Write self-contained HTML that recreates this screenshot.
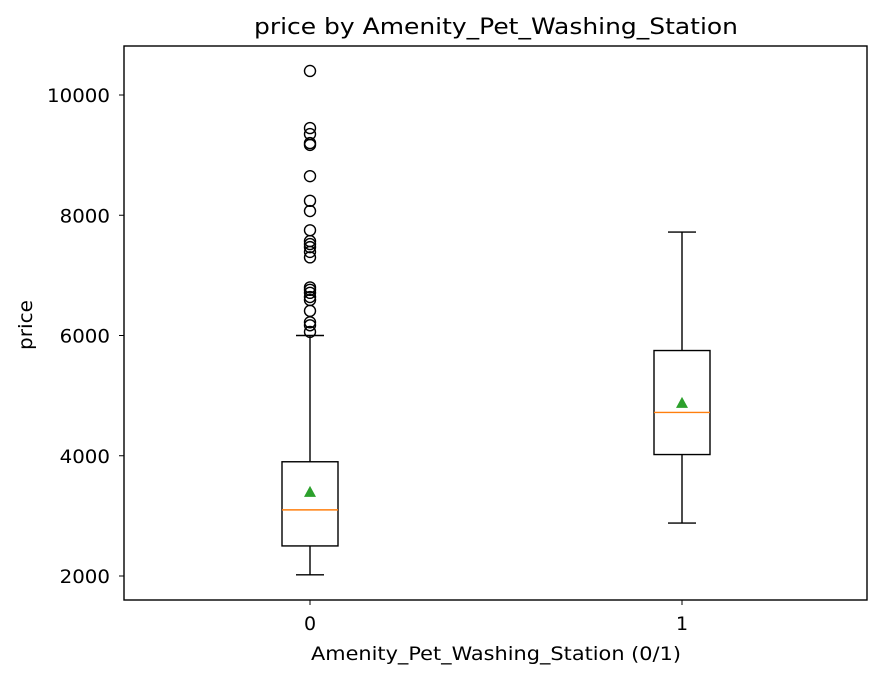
<!DOCTYPE html>
<html><head><meta charset="utf-8"><style>
body{margin:0;background:#fff}
</style></head><body>
<svg id="c" width="883" height="679" xmlns="http://www.w3.org/2000/svg" style="font-family:'DejaVu Sans','Liberation Sans',sans-serif">
<text x="254" y="34" font-size="22" textLength="484" lengthAdjust="spacingAndGlyphs">price by Amenity_Pet_Washing_Station</text>
<text x="311" y="660" font-size="19" textLength="370" lengthAdjust="spacingAndGlyphs">Amenity_Pet_Washing_Station (0/1)</text>
<text x="0" y="0" font-size="19" textLength="50" lengthAdjust="spacingAndGlyphs" transform="translate(32,350) rotate(-90)">price</text>
</svg>
<script>
const categories=["0","1"];
const q1=[2500,4020];
const medians=[3100,4720];
const q3=[3900,5750];
const whiskLow=[2020,2880];
const whiskHigh=[6000,7720];
const means=[3400,4880];
const outliers0=[10400,9450,9350,9200,9170,8650,8240,8070,7750,7570,7520,7470,7390,7300,6800,6760,6710,6640,6590,6410,6220,6170,6060];
const outliers1=[];
const yTicks=[2000,4000,6000,8000,10000];

const svg=document.getElementById('c');
const NS='http://www.w3.org/2000/svg';
const L=124,R=867,T=46,B=600;
const y=v=>576-(v-2000)*0.060125;
const x=i=>310+i*372;
function el(t,a,p){const e=document.createElementNS(NS,t);for(const k in a)e.setAttribute(k,a[k]);(p||svg).appendChild(e);return e;}
function txt(s,a){const e=el('text',a);e.textContent=s;return e;}

yTicks.forEach(v=>{
  const l=el('line',{x1:L-5,x2:L,y1:y(v),y2:y(v),stroke:'#000'});
  
  
  const s=String(v);
  const t=txt(s,{x:L-14,y:y(v)+7,'text-anchor':'end','font-size':19,textLength:s.length*12.6,lengthAdjust:'spacingAndGlyphs'});
  
  
});
categories.forEach((c,i)=>{
  const l=el('line',{x1:x(i),x2:x(i),y1:B,y2:B+5,stroke:'#000'});
  
  
  const t=txt(c,{x:x(i),y:B+30,'text-anchor':'middle','font-size':19});
  
  
});

const outs=[outliers0,outliers1];
categories.forEach((c,i)=>{
  const g=el('g',{});
  
  
  const cx=x(i),hw=28,cw=14;
  el('line',{x1:cx,x2:cx,y1:y(q1[i]),y2:y(whiskLow[i]),stroke:'#000','stroke-width':1.4},g);
  el('line',{x1:cx,x2:cx,y1:y(q3[i]),y2:y(whiskHigh[i]),stroke:'#000','stroke-width':1.4},g);
  el('line',{x1:cx-cw,x2:cx+cw,y1:y(whiskLow[i]),y2:y(whiskLow[i]),stroke:'#000','stroke-width':1.4},g);
  el('line',{x1:cx-cw,x2:cx+cw,y1:y(whiskHigh[i]),y2:y(whiskHigh[i]),stroke:'#000','stroke-width':1.4},g);
  el('rect',{x:cx-hw,y:y(q3[i]),width:2*hw,height:y(q1[i])-y(q3[i]),fill:'none',stroke:'#000','stroke-width':1.4},g);
  el('line',{x1:cx-hw,x2:cx+hw,y1:y(medians[i]),y2:y(medians[i]),stroke:'#ff7f0e','stroke-width':1.4},g);
  const m=y(means[i]);
  el('polygon',{points:`${cx},${m-6} ${cx-6},${m+5} ${cx+6},${m+5}`,fill:'#2ca02c'},g);
  outs[i].forEach(v=>{
    const o=el('circle',{cx:cx,cy:y(v),r:5.5,fill:'none',stroke:'#000','stroke-width':1.4});
    
    
  });
});
const f=el('rect',{x:L,y:T,width:R-L,height:B-T,fill:'none',stroke:'#000','stroke-width':1.4});


</script>
</body></html>
